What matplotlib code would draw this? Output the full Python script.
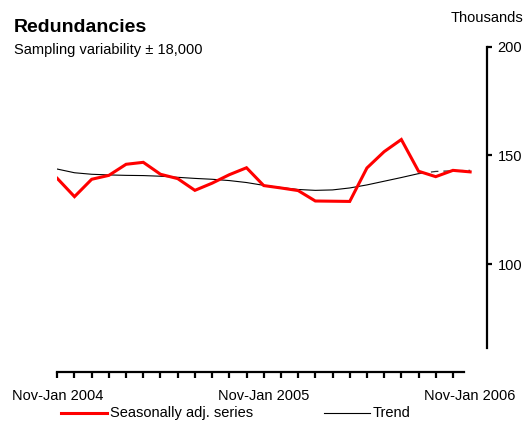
import matplotlib
matplotlib.use("Agg")
import matplotlib.pyplot as plt
from matplotlib.lines import Line2D

plt.rcParams['font.family'] = ['Liberation Sans', 'DejaVu Sans']

# Monthly (rolling quarter) data, thousands
seasonal = [139.4, 131.0, 139.0, 140.8, 145.9, 146.8, 141.3, 139.3, 133.9, 137.2,
            141.1, 144.3, 136.1, 135.0, 133.8, 129.0, 128.9, 128.8, 144.2, 151.7,
            157.3, 142.7, 140.2, 143.1, 142.4]
trend = [143.7, 142.0, 141.3, 141.0, 140.8, 140.7, 140.4, 139.9, 139.4, 139.0,
         138.4, 137.5, 136.2, 135.2, 134.3, 133.9, 134.1, 135.0, 136.4, 138.1,
         139.8, 141.6, 142.6, 142.9, 143.1]
trend_solid_end = 21  # trend after this point is shown dashed
x_labels = {0: "Nov-Jan 2004", 12: "Nov-Jan 2005", 24: "Nov-Jan 2006"}
y_ticks = [100, 150, 200]

fig = plt.figure(figsize=(5.27, 4.21), dpi=100)
ax = fig.add_axes([0.1087, 0.1164, 0.8154, 0.7726])

x = list(range(len(seasonal)))
ax.plot(x, seasonal, color="#ff0000", lw=2.2, solid_joinstyle="miter", zorder=3)
ax.plot(x[:trend_solid_end + 1], trend[:trend_solid_end + 1], color="black", lw=0.8, zorder=2)
ax.plot(x[trend_solid_end:], trend[trend_solid_end:], color="#333333", lw=0.9,
        dashes=(6, 4), zorder=2)

ax.set_xlim(0, 24.98)
ax.set_ylim(50.3, 200)

# spines
for s in ["top", "left"]:
    ax.spines[s].set_visible(False)
ax.spines["right"].set_linewidth(1.6)
ax.spines["bottom"].set_linewidth(1.6)
ax.spines["right"].set_bounds(61.3, 200)
ax.spines["bottom"].set_bounds(0, 23.65)

ax.yaxis.tick_right()
ax.set_yticks(y_ticks)
ax.set_yticklabels([str(v) for v in y_ticks])
ax.tick_params(axis="y", direction="out", length=3.5, width=1.6, pad=4, labelsize=10.5)

ax.set_xticks(range(24))
ax.set_xticklabels([])
ax.tick_params(axis="x", direction="out", length=4, width=1.6)
for i, lab in x_labels.items():
    ax.text(i, -0.075, lab, transform=ax.get_xaxis_transform(), ha="center", va="center",
            fontsize=10.5, clip_on=False)

# titles
fig.text(14 / 527, 1 - 32 / 421, "Redundancies", fontsize=14, fontweight="bold",
         ha="left", va="baseline")
fig.text(14 / 527, 1 - 54 / 421, "Sampling variability \u00b1 18,000", fontsize=10.5,
         ha="left", va="baseline")
fig.text(523 / 527, 1 - 22 / 421, "Thousands", fontsize=10.5, ha="right", va="baseline")

# legend (sits right at the bottom edge, as in the original)
ly = 1 - 413 / 421
fig.add_artist(Line2D([60.7 / 527, 106.7 / 527], [ly, ly], color="#ff0000", lw=2.2))
fig.text(110 / 527, ly, "Seasonally adj. series", fontsize=10.5, ha="left", va="center")
fig.add_artist(Line2D([324 / 527, 370 / 527], [ly, ly], color="black", lw=0.8))
fig.text(373 / 527, ly, "Trend", fontsize=10.5, ha="left", va="center")

fig.savefig("out.png", dpi=100)
plt.close(fig)
